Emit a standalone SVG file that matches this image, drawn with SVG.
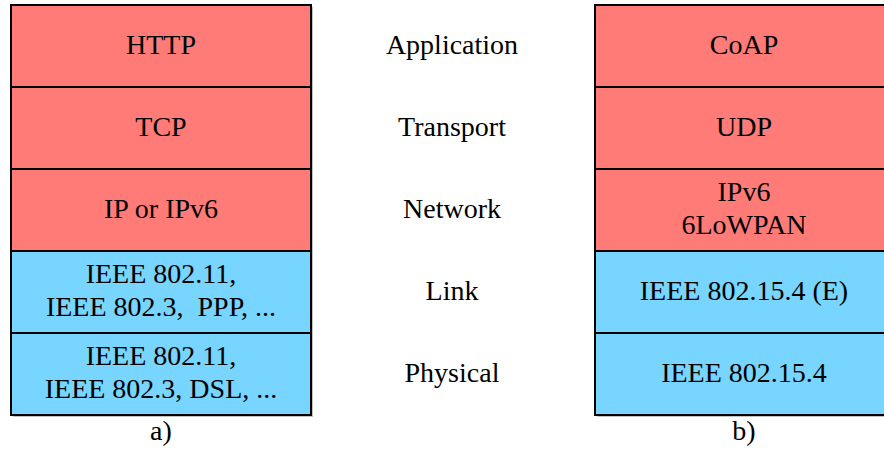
<svg xmlns="http://www.w3.org/2000/svg" width="884" height="471" viewBox="0 0 884 471" font-family="'Liberation Serif', 'DejaVu Serif', 'Times New Roman', serif">
<style>
.red{fill:#ff7b77;stroke:#000;stroke-width:2}
.blue{fill:#77d5ff;stroke:#000;stroke-width:2}
.sh{fill:#999;opacity:0.6}
text{font-family:'Liberation Serif','DejaVu Serif','Times New Roman',serif;font-size:28px;fill:#000;text-anchor:middle}
</style>
<rect width="884" height="471" fill="#fff"/>
<g id="shadows">
<rect class="sh" x="13" y="7" width="300" height="410"/>
<rect class="sh" x="597" y="7" width="298" height="410"/>
</g>
<g id="a-http"><rect class="red" x="11" y="5" width="300" height="82"/><text x="161" y="54">HTTP</text></g>
<g id="a-tcp"><rect class="red" x="11" y="87" width="300" height="82"/><text x="161" y="136">TCP</text></g>
<g id="a-ip"><rect class="red" x="11" y="169" width="300" height="82"/><text x="161" y="218">IP or IPv6</text></g>
<g id="a-link"><rect class="blue" x="11" y="251" width="300" height="82"/><text x="161" y="283">IEEE 802.11,</text><text x="161" y="316" xml:space="preserve">IEEE 802.3,  PPP, ...</text></g>
<g id="a-phy"><rect class="blue" x="11" y="333" width="300" height="82"/><text x="161" y="365">IEEE 802.11,</text><text x="161" y="398">IEEE 802.3, DSL, ...</text></g>
<g id="labels">
<text x="452" y="54">Application</text>
<text x="452" y="136">Transport</text>
<text x="452" y="218">Network</text>
<text x="452" y="300">Link</text>
<text x="452" y="382">Physical</text>
</g>
<g id="b-coap"><rect class="red" x="595" y="5" width="298" height="82"/><text x="744" y="54">CoAP</text></g>
<g id="b-udp"><rect class="red" x="595" y="87" width="298" height="82"/><text x="744" y="136">UDP</text></g>
<g id="b-ipv6"><rect class="red" x="595" y="169" width="298" height="82"/><text x="744" y="201">IPv6</text><text x="744" y="234">6LoWPAN</text></g>
<g id="b-link"><rect class="blue" x="595" y="251" width="298" height="82"/><text x="744" y="300">IEEE 802.15.4 (E)</text></g>
<g id="b-phy"><rect class="blue" x="595" y="333" width="298" height="82"/><text x="744" y="382">IEEE 802.15.4</text></g>
<g id="captions">
<text x="161" y="440">a)</text>
<text x="744" y="440">b)</text>
</g>
<g id="connectors"></g>
</svg>
